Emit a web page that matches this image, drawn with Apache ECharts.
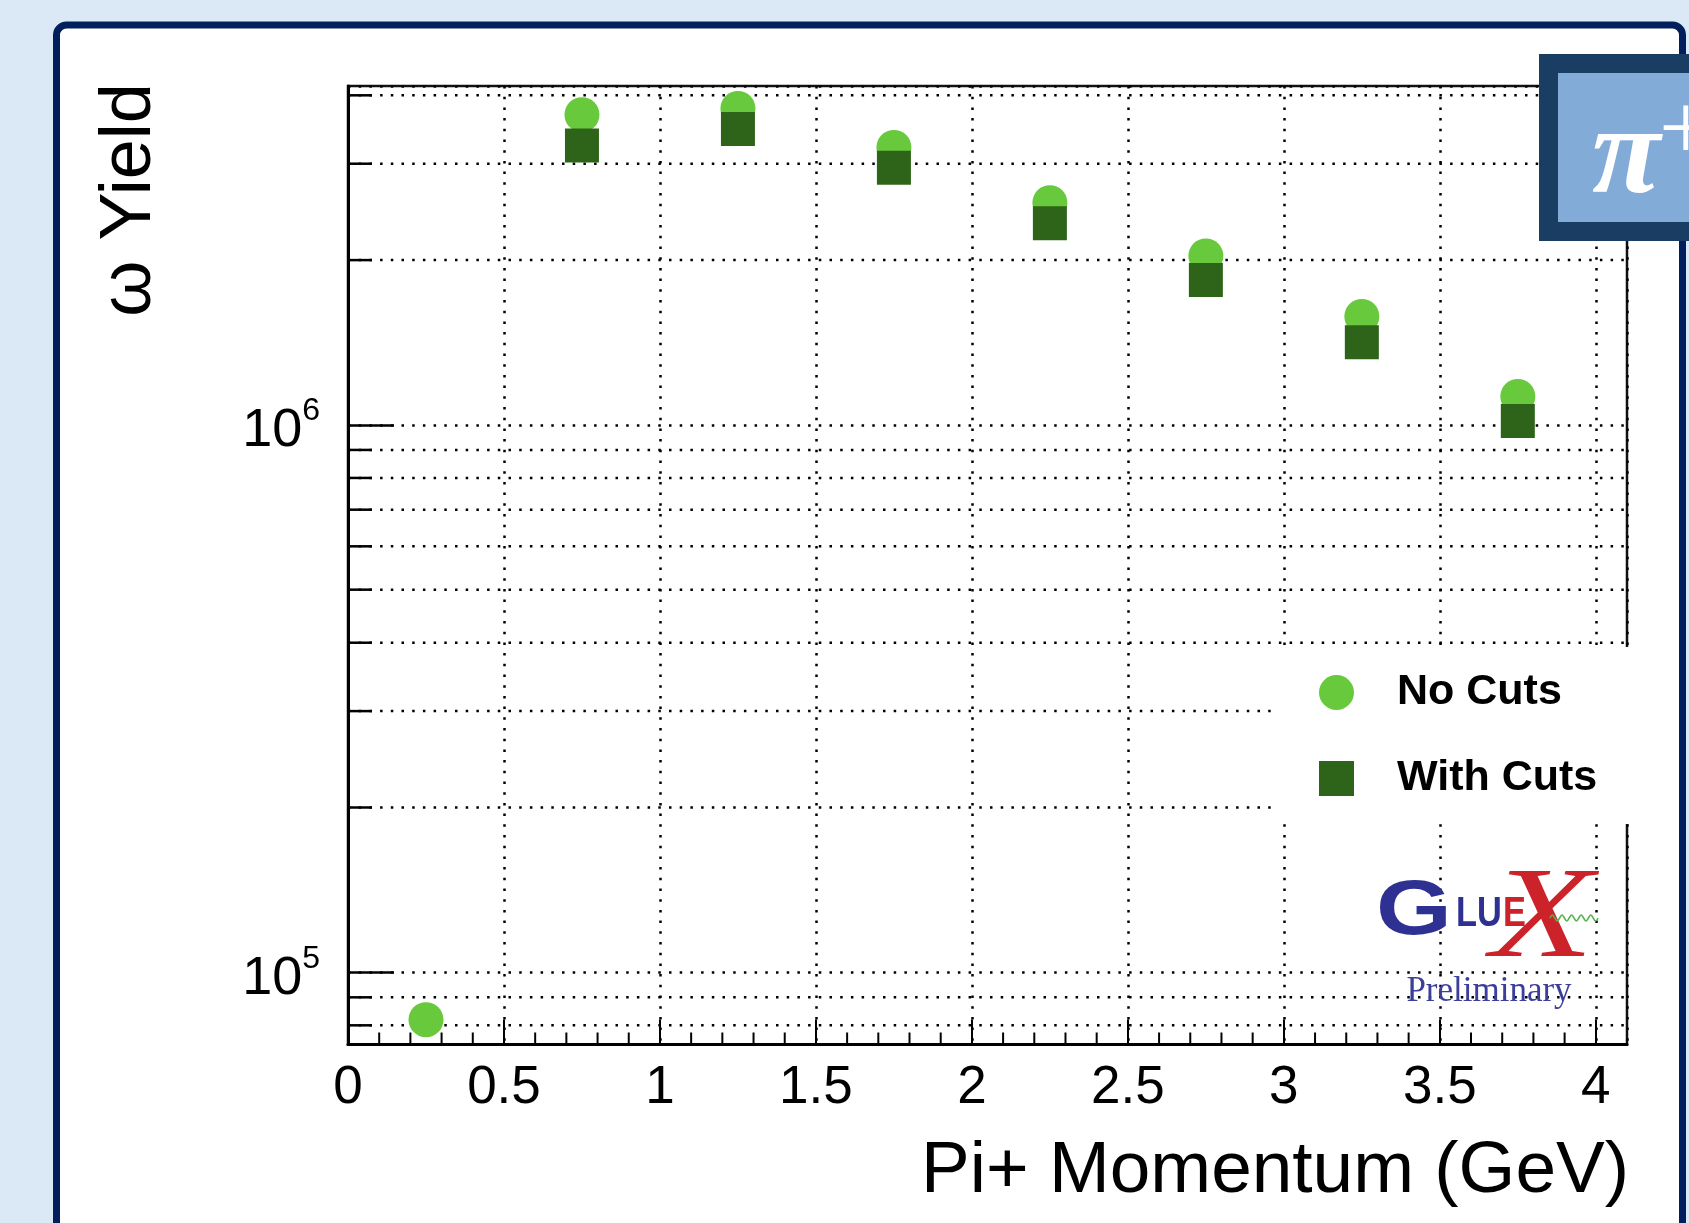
<!DOCTYPE html>
<html>
<head>
<meta charset="utf-8">
<title>omega yield vs pi+ momentum</title>
<script src="https://cdn.jsdelivr.net/npm/echarts@6/dist/echarts.min.js"></script>
<style>
  html, body { margin: 0; padding: 0; background: #dbe8f5; }
  #chart { width: 1689px; height: 1223px; }
</style>
</head>
<body>
<div id="chart"></div>
<script>
// Bin centres of the pi+ momentum (GeV)
const momentum = [0.25, 0.75, 1.25, 1.75, 2.25, 2.75, 3.25, 3.75];
// omega yield per bin
const yieldNoCuts = [81900, 3687000, 3785000, 3212000, 2546000, 2035000, 1578000, 1127000];
const yieldWithCuts = [null, 3240000, 3472000, 2948000, 2336000, 1840000, 1415000, 1017000];
const seriesNames = ['No Cuts', 'With Cuts'];
const xTitle = 'Pi+ Momentum (GeV)';
const yTitle = 'ω Yield';

// Axis ranges and tick positions
const xRange = [0, 4.1];
const xMajorStep = 0.5;
const xMinorTicks = [0.1, 0.2, 0.3, 0.4, 0.6, 0.7, 0.8, 0.9, 1.1, 1.2, 1.3, 1.4, 1.6, 1.7, 1.8, 1.9,
                     2.1, 2.2, 2.3, 2.4, 2.6, 2.7, 2.8, 2.9, 3.1, 3.2, 3.3, 3.4, 3.6, 3.7, 3.8, 3.9];
const yRange = [73800, 4160000];
const yMinorTicks = [80000, 90000, 200000, 300000, 400000, 500000, 600000, 700000, 800000, 900000,
                     2000000, 3000000, 4000000];

const FONT = 'Liberation Sans';
const DOTTED = [2.5, 8.2];

const chart = echarts.init(document.getElementById('chart'), null, { renderer: 'canvas' });

function pairs(xs, ys) {
  return xs.map((x, i) => (ys[i] == null ? [x, '-'] : [x, ys[i]]));
}

const option = {
  backgroundColor: '#dbe8f5',
  animation: false,
  grid: {
    left: 348, right: 62, top: 86, bottom: 178.5,
    containLabel: false, outerBoundsMode: 'none',
    show: true, borderColor: '#111', borderWidth: 2.5, backgroundColor: 'transparent'
  },
  legend: {
    data: seriesNames,
    orient: 'vertical',
    left: 1277, top: 647,
    itemWidth: 35, itemHeight: 35, itemGap: 43,
    backgroundColor: '#fff',
    padding: [24, 50, 24, 42],
    selectedMode: false,
    formatter: name => '{t|' + name + '}',
    textStyle: {
      fontFamily: FONT, fontWeight: 'bold', fontSize: 43, color: '#000', lineHeight: 35,
      rich: { t: { fontFamily: FONT, fontWeight: 'bold', fontSize: 43, color: '#000', lineHeight: 35, padding: [0, 0, 0, 38] } }
    }
  },
  xAxis: {
    type: 'value',
    min: xRange[0], max: xRange[1], interval: xMajorStep,
    axisLine: { show: true, onZero: false, lineStyle: { color: '#000', width: 3 } },
    axisTick: { show: true, inside: true, length: 25, lineStyle: { color: '#000', width: 2 } },
    splitLine: { show: true, lineStyle: { color: '#000', width: 2.5, type: DOTTED } },
    axisLabel: {
      fontFamily: FONT, fontSize: 53, color: '#000', margin: 17,
      showMaxLabel: false,
      formatter: v => String(v)
    }
  },
  yAxis: {
    type: 'log', logBase: 10,
    min: yRange[0], max: yRange[1],
    axisLine: { show: true, onZero: false, lineStyle: { color: '#000', width: 3 } },
    axisTick: { show: true, inside: true, length: 46, lineStyle: { color: '#000', width: 2.5 } },
    splitLine: { show: true, lineStyle: { color: '#000', width: 2.5, type: DOTTED } },
    axisLabel: {
      margin: 28, showMinLabel: false, showMaxLabel: false,
      formatter: v => {
        const e = Math.log10(v);
        const r = Math.round(e);
        if (Math.abs(e - r) > 1e-6) return '';
        return '{b|10}{s|' + r + '}';
      },
      rich: {
        b: { fontFamily: FONT, fontSize: 54, color: '#000', lineHeight: 54, padding: [13, 0, 0, 0] },
        s: { fontFamily: FONT, fontSize: 32, color: '#000', lineHeight: 14, padding: [13, 0, 40, 0] }
      }
    }
  },
  series: [
    {
      // minor x ticks along the bottom axis
      type: 'custom',
      name: 'xMinor',
      z: 1, silent: true,
      data: xMinorTicks.map(v => [v, yRange[0]]),
      renderItem: (params, api) => {
        const p = api.coord([api.value(0), api.value(1)]);
        return {
          type: 'line',
          shape: { x1: p[0], y1: p[1], x2: p[0], y2: p[1] - 12 },
          style: { stroke: '#000', lineWidth: 2 }
        };
      }
    },
    {
      // minor y grid lines and ticks on the log axis
      type: 'custom',
      name: 'yMinor',
      z: 1, silent: true,
      data: yMinorTicks.map(v => [xRange[0], v]),
      renderItem: (params, api) => {
        const a = api.coord([xRange[0], api.value(1)]);
        const b = api.coord([xRange[1], api.value(1)]);
        return {
          type: 'group',
          children: [
            { type: 'line', shape: { x1: a[0], y1: a[1], x2: b[0], y2: b[1] },
              style: { stroke: '#000', lineWidth: 2.5, lineDash: DOTTED } },
            { type: 'line', shape: { x1: a[0], y1: a[1], x2: a[0] + 24, y2: a[1] },
              style: { stroke: '#000', lineWidth: 2.5 } }
          ]
        };
      }
    },
    {
      name: seriesNames[0],
      type: 'scatter',
      z: 3,
      symbol: 'circle',
      symbolSize: 35,
      itemStyle: { color: '#67c93b', opacity: 1 },
      data: pairs(momentum, yieldNoCuts)
    },
    {
      name: seriesNames[1],
      type: 'scatter',
      z: 4,
      symbol: 'rect',
      symbolSize: 34,
      itemStyle: { color: '#2e6419', opacity: 1 },
      data: pairs(momentum, yieldWithCuts)
    }
  ],
  graphic: [
    // slide frame
    {
      type: 'rect', z: -100, silent: true,
      shape: { x: 56.5, y: 25, width: 1626, height: 1300, r: 10 },
      style: { fill: '#ffffff', stroke: '#001f5c', lineWidth: 7 }
    },
    // axis titles
    {
      type: 'text', z: 10, x: 130, y: 200, rotation: Math.PI / 2,
      style: { text: yTitle, font: '72px "Liberation Sans"', fill: '#000', align: 'center', verticalAlign: 'middle' }
    },
    {
      type: 'text', z: 10, x: 1629, y: 1172,
      style: { text: xTitle, font: '73px "Liberation Sans"', fill: '#000', align: 'right', verticalAlign: 'middle' }
    },
    // pi+ badge
    {
      type: 'rect', z: 100, silent: true,
      shape: { x: 1539, y: 54, width: 200, height: 187 },
      style: { fill: '#1a3d64' }
    },
    {
      type: 'rect', z: 101, silent: true,
      shape: { x: 1558, y: 73, width: 200, height: 149 },
      style: { fill: '#83abd8' }
    },
    {
      type: 'text', z: 102, x: 1592, y: 160,
      style: { text: 'π', font: 'italic bold 125px "Liberation Serif"', fill: '#fff', align: 'left', verticalAlign: 'middle' }
    },
    {
      type: 'text', z: 102, x: 1659, y: 134,
      style: { text: '+', font: '95px "Liberation Serif"', fill: '#fff', align: 'left', verticalAlign: 'middle' }
    },
    // GlueX logo
    {
      type: 'text', z: 50, x: 1376, y: 912, scaleX: 1.25,
      style: { text: 'G', font: 'bold 78px "Liberation Sans"', fill: '#2e3192', align: 'left', verticalAlign: 'middle' }
    },
    {
      type: 'text', z: 50, x: 1456, y: 914, scaleX: 0.8,
      style: { text: 'LU', font: 'bold 43px "Liberation Sans"', fill: '#2e3192', align: 'left', verticalAlign: 'middle' }
    },
    {
      type: 'text', z: 50, x: 1503, y: 914, scaleX: 0.8,
      style: { text: 'E', font: 'bold 43px "Liberation Sans"', fill: '#cc2229', align: 'left', verticalAlign: 'middle' }
    },
    {
      type: 'text', z: 51, x: 1542, y: 922, scaleX: 1.3,
      style: { text: 'X', font: 'italic 130px "Liberation Serif"', fill: '#cc2229', align: 'center', verticalAlign: 'middle' }
    },
    {
      type: 'polyline', z: 52, silent: true,
      shape: {
        smooth: 0.5,
        points: [[1550, 918], [1552.4, 915], [1554.8, 918], [1557.2, 921], [1559.6, 918], [1562, 915],
                 [1564.4, 918], [1566.8, 921], [1569.2, 918], [1571.6, 915], [1574, 918], [1576.4, 921],
                 [1578.8, 918], [1581.2, 915], [1583.6, 918], [1586, 921], [1588.4, 918], [1590.8, 915],
                 [1593.2, 918], [1595.6, 921], [1598, 918]]
      },
      style: { fill: 'none', stroke: '#59b34e', lineWidth: 1.6 }
    },
    {
      type: 'text', z: 50, x: 1489, y: 992,
      style: { text: 'Preliminary', font: '35px "Liberation Serif"', fill: '#3b3f9b', align: 'center', verticalAlign: 'middle' }
    }
  ]
};

chart.setOption(option);
</script>
</body>
</html>
